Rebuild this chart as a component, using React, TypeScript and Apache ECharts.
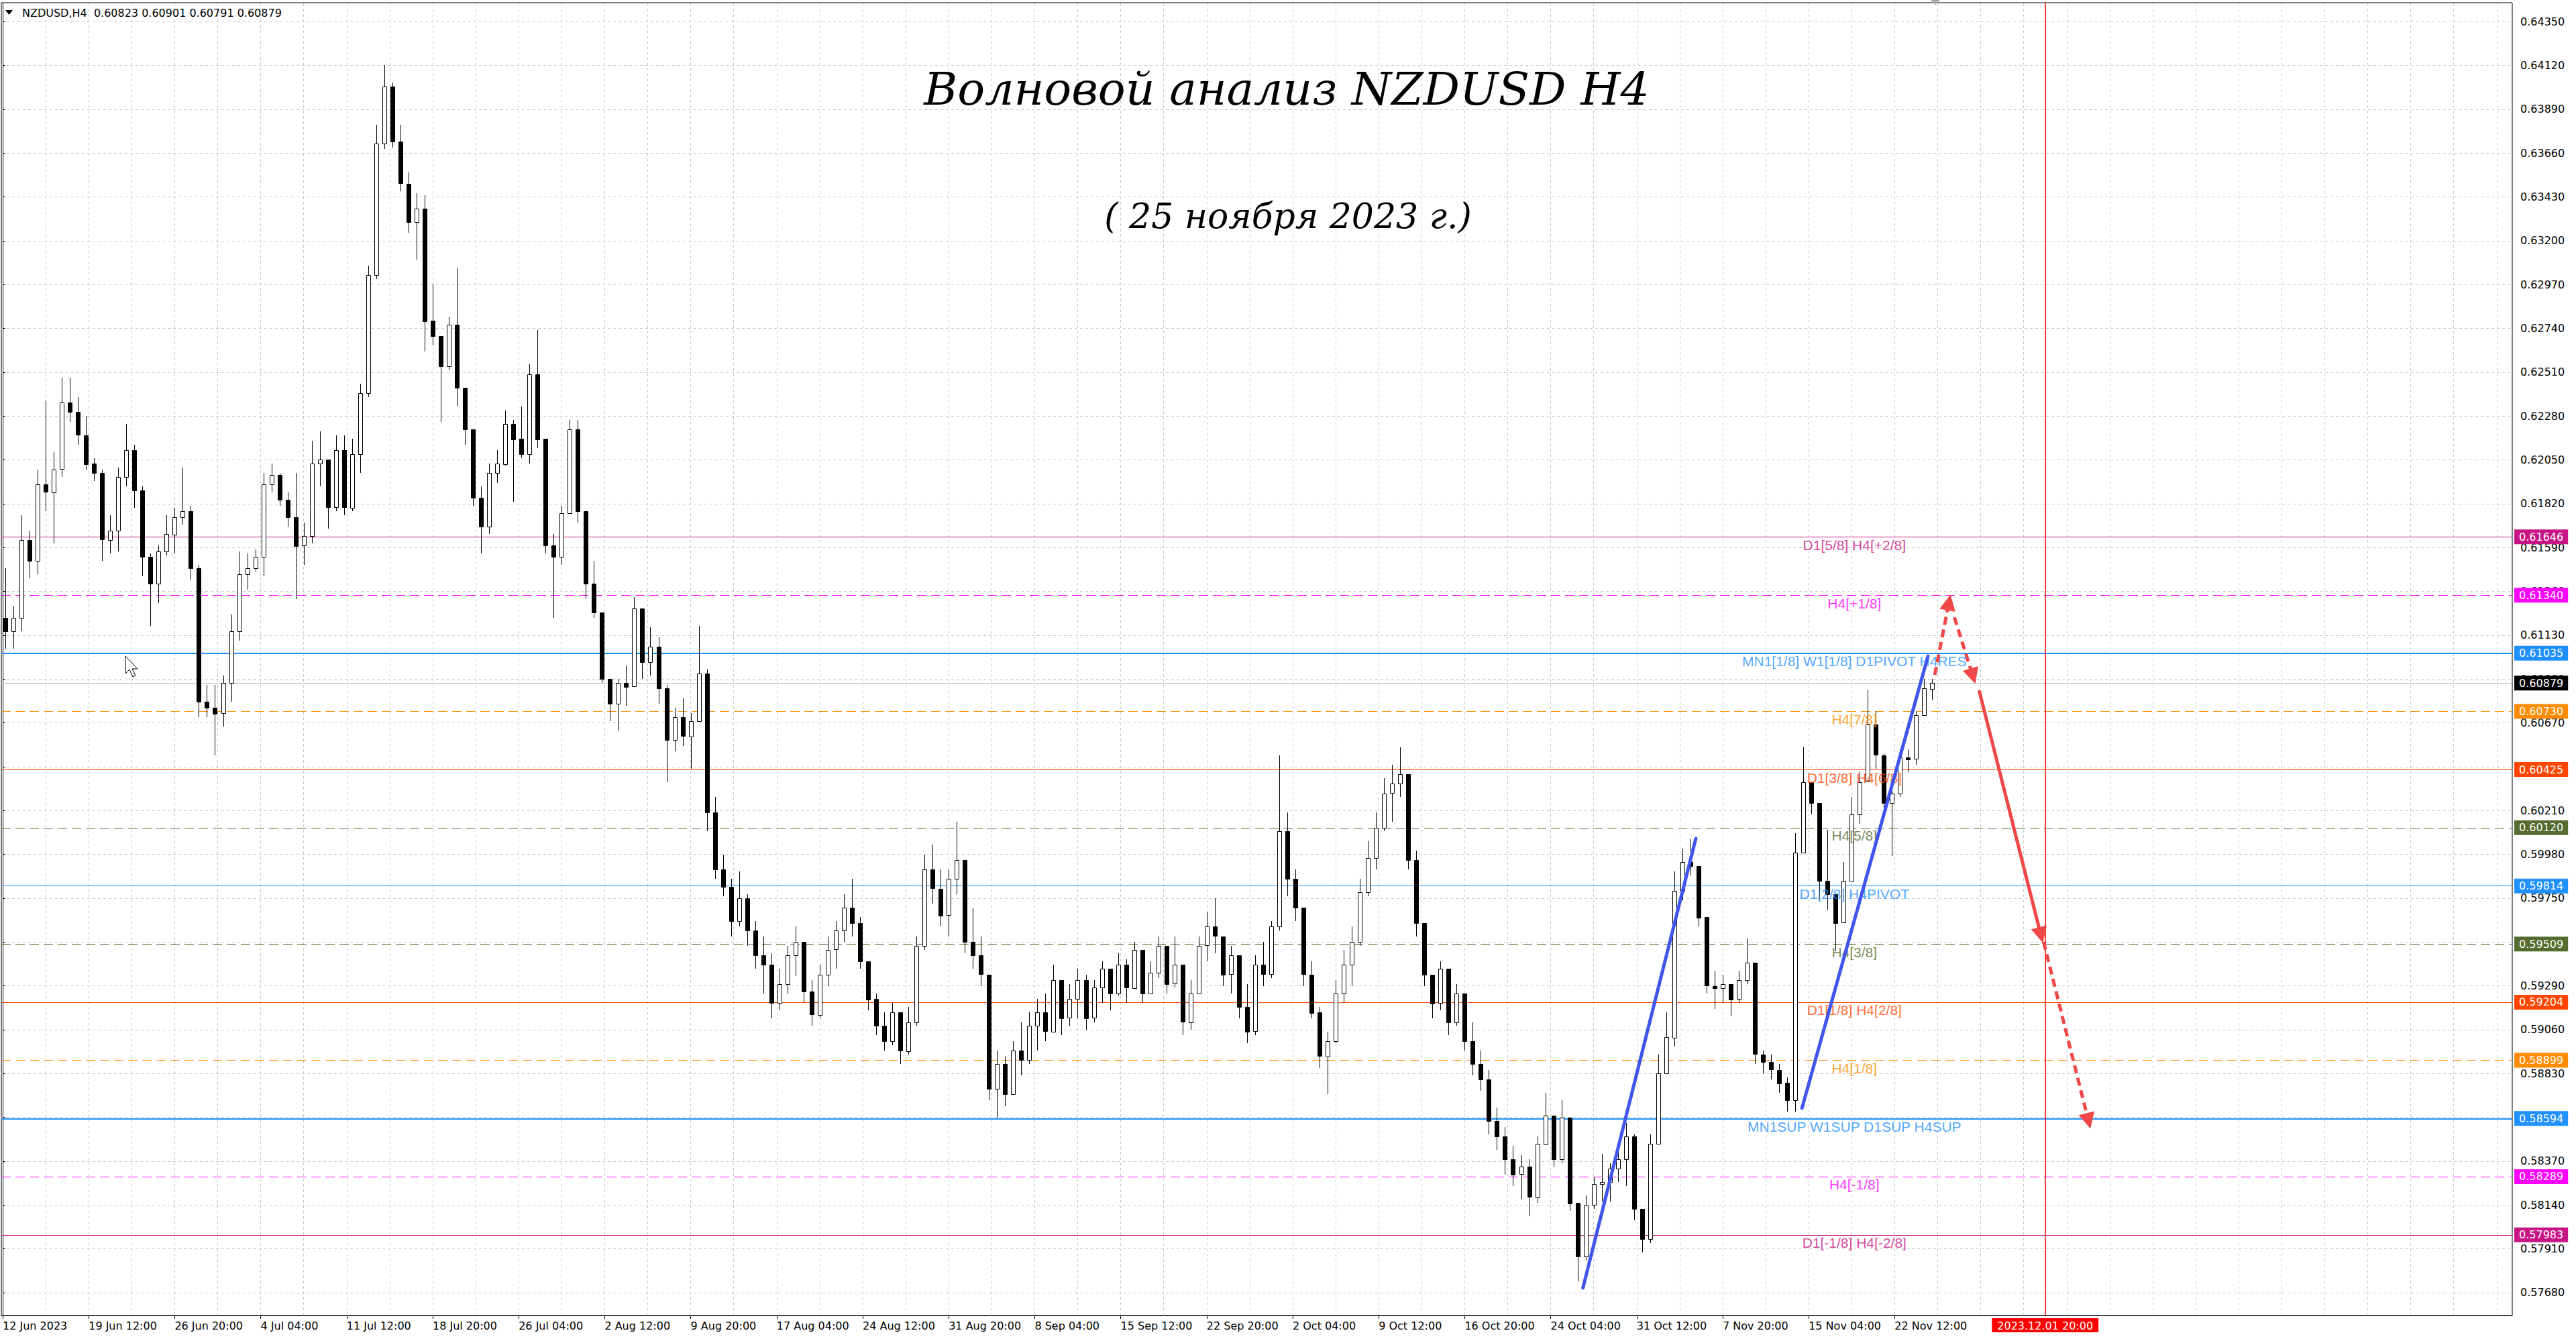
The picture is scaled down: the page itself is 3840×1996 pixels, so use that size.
import React, { useEffect, useRef } from 'react';
import * as echarts from 'echarts';

// ---------- data (prices in units of 0.0001) ----------
const PRICE_UNIT = 10000;
const BARS_PER_CANDLE = 3; // each candle drawn here spans three H4 bars
const firstOpen = 6122;

const closes = [
  6115, 6122, 6163, 6152, 6192, 6188, 6200, 6235, 6230, 6218,
  6203, 6198, 6163, 6168, 6196, 6210, 6189, 6154, 6140, 6157,
  6166, 6175, 6178, 6148, 6078, 6075, 6072, 6088, 6115, 6145,
  6148, 6154, 6192, 6197, 6184, 6175, 6160, 6165, 6203, 6205,
  6180, 6210, 6180, 6208, 6240, 6302, 6371, 6401, 6372, 6350,
  6330, 6337, 6278, 6270, 6254, 6276, 6243, 6221, 6185, 6170,
  6198, 6203, 6224, 6216, 6208, 6250, 6216, 6160, 6154, 6177,
  6221, 6178, 6140, 6125, 6090, 6077, 6088, 6086, 6127, 6099,
  6107, 6085, 6058, 6070, 6060, 6068, 6093, 6020, 5990, 5981,
  5963, 5975, 5958, 5945, 5940, 5920, 5930, 5945, 5952, 5926,
  5914, 5935, 5948, 5958, 5970, 5962, 5942, 5922, 5908, 5900,
  5915, 5895, 5910, 5950, 5990, 5980, 5966, 5985, 5995, 5952,
  5945, 5935, 5875, 5888, 5872, 5895, 5890, 5908, 5915, 5905,
  5932, 5912, 5922, 5932, 5912, 5928, 5938, 5925, 5940, 5928,
  5948, 5925, 5936, 5950, 5930, 5940, 5910, 5925, 5950, 5960,
  5955, 5935, 5945, 5918, 5905, 5940, 5935, 5960, 6010, 5985,
  5970, 5935, 5915, 5892, 5900, 5925, 5940, 5952, 5978, 5996,
  6012, 6030, 6035, 6040, 5995, 5962, 5935, 5920, 5938, 5910,
  5925, 5900, 5888, 5880, 5858, 5850, 5838, 5830, 5834, 5818,
  5846, 5861, 5838, 5860, 5815, 5787, 5814, 5825, 5826, 5833,
  5838, 5850, 5812, 5796, 5846, 5883, 5902, 5979, 5994, 5992,
  5965, 5929, 5928, 5930, 5922, 5932, 5941, 5893, 5889, 5885,
  5878, 5869, 5999, 6036, 6025, 5984, 5977, 5962, 5984, 6019,
  6036, 6066, 6050, 6025, 6030, 6049, 6048, 6071, 6085, 6088,
];

const highs = [
  6148, 6128, 6176, 6168, 6200, 6236, 6209, 6248, 6248, 6238,
  6228, 6206, 6200, 6176, 6201, 6224, 6213, 6191, 6156, 6160,
  6176, 6180, 6201, 6181, 6150, 6087, 6087, 6092, 6124, 6157,
  6156, 6158, 6198, 6203, 6198, 6188, 6198, 6172, 6215, 6220,
  6205, 6218, 6218, 6216, 6245, 6307, 6381, 6412, 6403, 6381,
  6356, 6345, 6344, 6297, 6270, 6280, 6306, 6243, 6221, 6191,
  6203, 6210, 6231, 6226, 6233, 6255, 6273, 6216, 6166, 6181,
  6226, 6226, 6178, 6152, 6125, 6090, 6090, 6097, 6133, 6127,
  6117, 6112, 6087, 6075, 6080, 6072, 6118, 6095, 6028, 5998,
  5985, 5989, 5977, 5963, 5955, 5946, 5938, 5950, 5960, 5952,
  5932, 5940, 5955, 5963, 5977, 5985, 5965, 5942, 5925, 5915,
  5920, 5915, 5918, 5955, 5998, 6003, 5990, 5990, 6015, 5995,
  5970, 5955, 5935, 5895, 5892, 5900, 5910, 5915, 5922, 5925,
  5940, 5932, 5930, 5938, 5935, 5932, 5942, 5938, 5946, 5943,
  5952, 5948, 5942, 5955, 5950, 5955, 5940, 5932, 5955, 5968,
  5975, 5955, 5950, 5945, 5930, 5945, 5952, 5963, 6050, 6020,
  5990, 5970, 5942, 5918, 5905, 5932, 5948, 5960, 5985, 6005,
  6020, 6038, 6045, 6054, 6040, 6000, 5962, 5935, 5942, 5938,
  5930, 5925, 5910, 5895, 5885, 5865, 5855, 5845, 5840, 5838,
  5850, 5873, 5861, 5869, 5860, 5815, 5819, 5829, 5841, 5836,
  5843, 5857, 5851, 5812, 5851, 5893, 5915, 5989, 6001, 6006,
  5992, 5965, 5937, 5935, 5930, 5937, 5954, 5941, 5895, 5893,
  5888, 5881, 6009, 6054, 6036, 6025, 6011, 5977, 5994, 6028,
  6041, 6084, 6073, 6051, 6034, 6053, 6053, 6073, 6090, 6090,
];

const lows = [
  6106, 6106, 6115, 6143, 6145, 6178, 6161, 6196, 6225, 6213,
  6200, 6194, 6152, 6156, 6157, 6191, 6180, 6144, 6118, 6130,
  6155, 6156, 6171, 6142, 6070, 6070, 6050, 6065, 6078, 6110,
  6137, 6146, 6144, 6188, 6181, 6170, 6132, 6150, 6161, 6191,
  6169, 6178, 6176, 6178, 6198, 6238, 6300, 6368, 6369, 6346,
  6324, 6310, 6262, 6265, 6225, 6252, 6233, 6213, 6181, 6156,
  6166, 6193, 6202, 6183, 6206, 6203, 6211, 6156, 6122, 6150,
  6177, 6172, 6132, 6122, 6088, 6068, 6063, 6076, 6086, 6090,
  6092, 6077, 6036, 6052, 6055, 6043, 6068, 6010, 5985, 5976,
  5955, 5960, 5950, 5938, 5925, 5912, 5916, 5925, 5934, 5920,
  5908, 5912, 5929, 5938, 5952, 5955, 5938, 5916, 5903, 5895,
  5898, 5888, 5893, 5908, 5948, 5972, 5960, 5955, 5977, 5946,
  5938, 5929, 5869, 5860, 5866, 5872, 5882, 5888, 5895, 5900,
  5905, 5903, 5908, 5912, 5906, 5910, 5920, 5916, 5924, 5920,
  5928, 5920, 5925, 5933, 5925, 5928, 5903, 5906, 5925, 5942,
  5946, 5929, 5925, 5912, 5899, 5903, 5929, 5933, 5958, 5976,
  5963, 5929, 5912, 5886, 5872, 5899, 5920, 5929, 5950, 5976,
  5990, 6010, 6015, 6028, 5990, 5955, 5929, 5912, 5916, 5903,
  5908, 5895, 5882, 5874, 5851, 5843, 5830, 5824, 5817, 5808,
  5815, 5846, 5834, 5836, 5811, 5774, 5785, 5812, 5816, 5816,
  5826, 5824, 5806, 5789, 5794, 5846, 5883, 5897, 5974, 5987,
  5960, 5925, 5917, 5920, 5913, 5920, 5930, 5888, 5883, 5880,
  5873, 5863, 5863, 5999, 6019, 5974, 5969, 5947, 5962, 5984,
  6014, 6036, 6043, 6019, 5997, 6028, 6041, 6045, 6071, 6079,
];

// x axis: H4 bar index
const timeLabelBars = [0, 32, 64, 96, 128, 160, 192, 224, 256, 288, 320, 352, 384, 416, 448, 480, 512, 544, 576, 608, 640, 672, 704];
const timeLabels = [
  '12 Jun 2023', '19 Jun 12:00', '26 Jun 20:00', '4 Jul 04:00', '11 Jul 12:00', '18 Jul 20:00',
  '26 Jul 04:00', '2 Aug 12:00', '9 Aug 20:00', '17 Aug 04:00', '24 Aug 12:00', '31 Aug 20:00',
  '8 Sep 04:00', '15 Sep 12:00', '22 Sep 20:00', '2 Oct 04:00', '9 Oct 12:00', '16 Oct 20:00',
  '24 Oct 04:00', '31 Oct 12:00', '7 Nov 20:00', '15 Nov 04:00', '22 Nov 12:00',
];
const gridBars = [0, 16, 32, 48, 64, 80, 96, 112, 128, 144, 160, 176, 192, 208, 224, 240, 256, 272, 288, 304, 320, 336, 352, 368, 384, 400, 416, 432, 448, 464, 480, 496, 512, 528, 544, 560, 576, 592, 608, 624, 640, 656, 672, 688, 704, 720, 736, 752, 768, 784, 800, 816, 832, 848, 864, 880, 896, 912, 928];
const X_MIN = -0.5;
const X_MAX = 933.8;

// y axis
const priceTicks = [
  0.5768, 0.5791, 0.5814, 0.5837, 0.586, 0.5883, 0.5906, 0.5929, 0.5952, 0.5975,
  0.5998, 0.6021, 0.6044, 0.6067, 0.609, 0.6113, 0.6136, 0.6159, 0.6182, 0.6205,
  0.6228, 0.6251, 0.6274, 0.6297, 0.632, 0.6343, 0.6366, 0.6389, 0.6412, 0.6435,
];
const Y_MIN = 0.5756;
const Y_MAX = 0.64449;

// Murrey levels
const levelPrices = [0.61646, 0.6134, 0.61035, 0.6073, 0.60425, 0.6012, 0.59814, 0.59509, 0.59204, 0.58899, 0.58594, 0.58289, 0.57983];
const levelNames = [
  'D1[5/8] H4[+2/8]', 'H4[+1/8]', 'MN1[1/8] W1[1/8] D1PIVOT H4RES', 'H4[7/8]', 'D1[3/8] H4[6/8]',
  'H4[5/8]', 'D1[2/8] H4PIVOT', 'H4[3/8]', 'D1[1/8] H4[2/8]', 'H4[1/8]',
  'MN1SUP W1SUP D1SUP H4SUP', 'H4[-1/8]', 'D1[-1/8] H4[-2/8]',
];
const levelColors = ['#C71585', '#FF00FF', '#1E90FF', '#FF8C00', '#FF4500', '#556B2F', '#1E90FF', '#556B2F', '#FF4500', '#FF8C00', '#1E90FF', '#FF00FF', '#C71585'];
const levelDashed = [false, true, false, true, false, true, false, true, false, true, false, true, false];
const levelWidths = [1, 1, 2, 1, 1, 1, 1, 1, 1, 1, 2, 1, 1];
const levelLabelBar = 689;
const bidPrice = 0.60879;

// annotations (bar index, price)
const trendStarts = [[588, 0.57705], [669.5, 0.58648]];
const trendEnds = [[630, 0.60063], [716.4, 0.6102]];
const arrowStarts = [[718.9, 0.60922], [726.2, 0.61224], [735.4, 0.60841], [759.4, 0.59521]];
const arrowEnds = [[724.2, 0.61302], [733.1, 0.60915], [758.4, 0.59556], [776.1, 0.58581]];
const arrowDashed = [true, true, false, true];
const markerBar = 760;
const markerLabel = '2023.12.01 20:00';

const headerText = 'NZDUSD,H4  0.60823 0.60901 0.60791 0.60879';
const titleText = 'Волновой анализ NZDUSD H4';
const subtitleText = '( 25 ноября 2023 г.)';

function buildOption() {
  const candleData = closes.map((c, i) => {
    const o = i === 0 ? firstOpen : closes[i - 1];
    return [i * BARS_PER_CANDLE + 1, o / PRICE_UNIT, c / PRICE_UNIT, lows[i] / PRICE_UNIT, highs[i] / PRICE_UNIT];
  });

  const levelMarks: any[] = levelPrices.map((p, i) => ({
    yAxis: p,
    lineStyle: { color: levelColors[i], width: levelWidths[i], type: levelDashed[i] ? [14, 7] : 'solid' },
    label: {
      show: true, position: 'end', distance: 3, formatter: p.toFixed(5),
      backgroundColor: levelColors[i], color: '#fff', padding: [3, 7, 3, 7],
      fontFamily: 'DejaVu Sans', fontSize: 16,
    },
  }));
  levelMarks.push({
    yAxis: bidPrice,
    lineStyle: { color: '#c0c0c0', width: 1, type: 'solid' },
    label: {
      show: true, position: 'end', distance: 3, formatter: bidPrice.toFixed(5),
      backgroundColor: '#000', color: '#fff', padding: [3, 7, 3, 7],
      fontFamily: 'DejaVu Sans', fontSize: 16,
    },
  });

  return {
    animation: false,
    backgroundColor: '#ffffff',
    grid: { left: 2, right: 95, top: 4, bottom: 35, show: true, borderColor: '#000', borderWidth: 1, backgroundColor: '#fff' },
    xAxis: {
      type: 'value', min: X_MIN, max: X_MAX,
      axisLine: { show: true, onZero: false, lineStyle: { color: '#000', width: 1 } },
      axisTick: { show: true, length: 5, customValues: timeLabelBars, lineStyle: { color: '#000' } },
      axisLabel: {
        show: true, customValues: timeLabelBars,
        formatter: (v: number) => { const k = timeLabelBars.indexOf(Math.round(v)); return k >= 0 ? timeLabels[k] : ''; },
        align: 'left', margin: 7, color: '#000', fontFamily: 'DejaVu Sans', fontSize: 16,
      },
      splitLine: { show: false },
    },
    yAxis: {
      type: 'value', position: 'right', min: Y_MIN, max: Y_MAX, scale: true,
      axisLine: { show: true, lineStyle: { color: '#000', width: 1 } },
      axisTick: { show: true, length: 4, customValues: priceTicks, lineStyle: { color: '#000' } },
      axisLabel: {
        show: true, customValues: priceTicks, formatter: (v: number) => v.toFixed(5),
        margin: 12, color: '#000', fontFamily: 'DejaVu Sans', fontSize: 16,
      },
      splitLine: { show: false },
    },
    graphic: [
      { type: 'polygon', z: 100, shape: { points: [[8, 15], [19, 15], [13.5, 22]] }, style: { fill: '#000' } },
      { type: 'text', z: 100, x: 33, y: 19, style: { text: headerText, fill: '#000', fontFamily: 'DejaVu Sans', fontSize: 16, textVerticalAlign: 'middle', verticalAlign: 'middle' } },
      { type: 'polygon', z: 100, shape: { points: [[2878, 0], [2892, 0], [2885, 7]] }, style: { fill: '#a8a8a8' } },
      {
        type: 'text', z: 100, x: 1918, y: 132,
        style: {
          text: titleText, fill: '#000', fontFamily: 'DejaVu Serif', fontStyle: 'italic', fontSize: 68,
          textAlign: 'center', textVerticalAlign: 'middle', align: 'center', verticalAlign: 'middle',
          shadowColor: 'rgba(0,0,0,0.45)', shadowBlur: 6, shadowOffsetX: 4, shadowOffsetY: 6,
        },
      },
      {
        type: 'text', z: 100, x: 1920, y: 322,
        style: {
          text: subtitleText, fill: '#000', fontFamily: 'DejaVu Serif', fontStyle: 'italic', fontSize: 52,
          textAlign: 'center', textVerticalAlign: 'middle', align: 'center', verticalAlign: 'middle',
          shadowColor: 'rgba(0,0,0,0.45)', shadowBlur: 6, shadowOffsetX: 4, shadowOffsetY: 6,
        },
      },
      {
        type: 'polygon', z: 100,
        shape: { points: [[187, 978], [187, 1004], [193, 998], [198, 1009], [202, 1007], [197, 997], [205, 997]] },
        style: { fill: '#fff', stroke: '#000', lineWidth: 1 },
      },
    ],
    series: [
      {
        name: 'grid', type: 'line', data: [[0, 0.6]], showSymbol: false, symbol: 'none',
        lineStyle: { width: 0 }, silent: true, z: 0,
        markLine: {
          silent: true, symbol: ['none', 'none'], z: 0, animation: false, precision: 6,
          label: { show: false },
          lineStyle: { color: '#c8c8c8', type: [4, 4], width: 1 },
          data: [
            ...gridBars.map((b) => ({ xAxis: b })),
            ...priceTicks.map((p) => ({ yAxis: p })),
          ],
        },
      },
      {
        name: 'levels', type: 'line', data: [[0, 0.6]], showSymbol: false, symbol: 'none',
        lineStyle: { width: 0 }, silent: true, z: 1,
        markLine: { silent: true, symbol: ['none', 'none'], z: 1, animation: false, precision: 6, data: levelMarks },
      },
      {
        name: 'NZDUSD', type: 'custom', z: 3, clip: true, silent: true,
        encode: { x: 0, y: [1, 2, 3, 4] },
        data: candleData,
        renderItem: (params: any, api: any) => {
          const x = api.value(0);
          const o = api.value(1), c = api.value(2), l = api.value(3), h = api.value(4);
          const pO = api.coord([x, o]);
          const pC = api.coord([x, c]);
          const pL = api.coord([x, l]);
          const pH = api.coord([x, h]);
          const w = Math.round(api.size([BARS_PER_CANDLE, 0])[0] * 0.5);
          const cx = Math.round(pO[0]) + 0.5;
          const top = Math.round(Math.min(pO[1], pC[1])) + 0.5;
          const bh = Math.max(1, Math.round(Math.abs(pO[1] - pC[1])));
          const bull = c >= o;
          return {
            type: 'group',
            children: [
              { type: 'line', shape: { x1: cx, y1: Math.round(pH[1]), x2: cx, y2: Math.round(pL[1]) }, style: { stroke: '#000', lineWidth: 1 } },
              { type: 'rect', shape: { x: cx - Math.floor(w / 2), y: top, width: w, height: bh }, style: { fill: bull ? '#fff' : '#000', stroke: '#000', lineWidth: 1 } },
            ],
          };
        },
      },
      {
        name: 'levelNames', type: 'scatter', z: 4, silent: true, symbolSize: 1,
        itemStyle: { color: 'rgba(0,0,0,0)' },
        label: { show: true, position: 'bottom', distance: 1, formatter: '{b}', fontFamily: 'Liberation Sans', fontSize: 21 },
        data: levelPrices.map((p, i) => ({ value: [levelLabelBar, p], name: levelNames[i], label: { color: levelColors[i] } })),
      },
      {
        name: 'marker', type: 'line', data: [[0, 0.6]], showSymbol: false, symbol: 'none',
        lineStyle: { width: 0 }, silent: true, z: 5,
        markLine: {
          silent: true, symbol: ['none', 'none'], z: 5, animation: false, precision: 6,
          data: [{
            xAxis: markerBar,
            lineStyle: { color: '#ff0000', width: 1.5, type: 'solid' },
            label: {
              show: true, position: 'start', distance: 4, formatter: markerLabel,
              backgroundColor: '#ff0000', color: '#fff', padding: [3, 8, 2, 8], fontFamily: 'DejaVu Sans', fontSize: 16,
            },
          }],
        },
      },
      {
        name: 'trend', type: 'lines', coordinateSystem: 'cartesian2d', z: 6, silent: true,
        symbol: ['none', 'none'],
        lineStyle: { color: '#4054EE', width: 5, opacity: 1, cap: 'round' },
        data: trendStarts.map((s, i) => ({ coords: [s, trendEnds[i]] })),
      },
      {
        name: 'arrows', type: 'lines', coordinateSystem: 'cartesian2d', z: 7, silent: true,
        symbol: ['none', 'triangle'], symbolSize: 24,
        lineStyle: { color: '#F04848', width: 5, opacity: 1 },
        data: arrowStarts.map((s, i) => ({
          coords: [s, arrowEnds[i]],
          lineStyle: { color: '#F04848', width: 5, type: arrowDashed[i] ? [12, 7] : 'solid' },
        })),
      },
    ],
  };
}

export default function App() {
  const ref = useRef<HTMLDivElement>(null);
  useEffect(() => {
    if (!ref.current) return;
    const chart = echarts.init(ref.current, null, { renderer: 'svg' });
    chart.setOption(buildOption() as any);
    return () => chart.dispose();
  }, []);
  return (
    <div
      ref={ref}
      style={{ position: 'fixed', left: 0, top: 0, width: 3840, height: 1996, background: '#fff' }}
    />
  );
}
